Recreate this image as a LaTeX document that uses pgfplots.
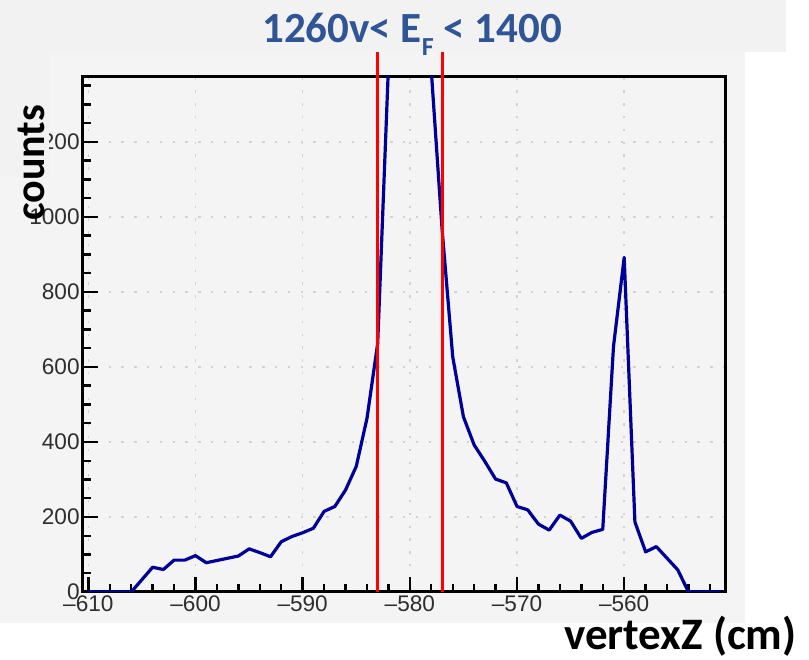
\documentclass[border=0pt]{standalone}
\usepackage{pgfplots}
\pgfplotsset{compat=1.18}
\usepackage{fontspec}
\setmainfont{Liberation Sans}
\newfontfamily\carlito{Carlito}
\definecolor{band}{HTML}{F2F2F2}
\definecolor{panel}{HTML}{F4F4F4}
\definecolor{titleblue}{HTML}{2F5597}
\definecolor{curve}{RGB}{0,0,150}
\definecolor{gridgray}{HTML}{D2D2D2}
\pgfplotstableread{
x y
-610 0
-609 0
-608 0
-607 0
-606 0
-605 33
-604 66
-603 60
-602 85
-601 85
-600 97
-599 78
-598 84
-597 90
-596 96
-595 115
-594 105
-593 94
-592 134
-591 148
-590 158
-589 170
-588 215
-587 228
-586 272
-585 335
-584 463
-583 663
-582 1400
-581 2600
-580 3100
-579 2500
-578 1390
-577 970
-576 627
-575 467
-574 392
-573 348
-572 301
-571 291
-570 228
-569 219
-568 181
-567 165
-566 205
-565 189
-564 143
-563 159
-562 167
-561 654
-560 892
-559 187
-558 107
-557 121
-556 90
-555 59
-554 0
-553 0
-552 0
-551 0
}\vzdata
\begin{document}
\begin{tikzpicture}
\useasboundingbox (0,0) rectangle (404.5pt,329.5pt);
\fill[panel] (0,18pt) rectangle (372.5pt,303.5pt);
\fill[band] (0,303.5pt) rectangle (393pt,329.5pt);
\begin{axis}[
  at={(41.5pt,33.5pt)}, anchor=south west,
  scale only axis, width=321.5pt, height=257.5pt,
  xmin=-610.5, xmax=-550.5, ymin=0, ymax=1373,
  axis line style={line width=1.5pt},
  tick style={line width=1.2pt, black},
  tick align=inside,
  xtick pos=left, ytick pos=left,
  xtick={-610,-600,...,-560},
  xticklabels={–610,–600,–590,–580,–570,–560},
  minor xtick={-610,-608,...,-552},
  ytick={0,200,...,1200},
  yticklabels={0,200,400,600,800,1000,1200},
  minor ytick={0,50,...,1350},
  major tick length=7.5pt, minor tick length=4pt,
  grid=major,
  major grid style={gridgray, line width=0.8pt, dash pattern=on 1.2pt off 5.2pt},
  ticklabel style={font=\fontsize{11.3}{13}\selectfont, text=black!82},
  xticklabel style={inner sep=1.2pt, yshift=-0.3pt},
  yticklabel style={inner sep=1.5pt},
  clip mode=individual,
]
\addplot[curve, line width=1.6pt, line join=round] table[x=x,y=y] {\vzdata};
\addplot[red, line width=1.5pt] coordinates {(-583,0) (-583,1373)};
\addplot[red, line width=1.5pt] coordinates {(-577,0) (-577,1373)};
\coordinate (ra) at (axis cs:-583,1373);
\coordinate (rb) at (axis cs:-577,1373);
\end{axis}
\draw[red, line width=1.5pt] (ra) -- ++(0,12.5pt);
\draw[red, line width=1.5pt] (rb) -- ++(0,12.5pt);
\fill[band] (0,241pt) rectangle (24.5pt,303.5pt);
\node[rotate=90, anchor=base, inner sep=0pt, font=\carlito\bfseries\fontsize{21}{25}\selectfont] at (22.5pt,248pt) {counts};
\node[anchor=base, inner sep=0pt, text=titleblue, font=\carlito\bfseries\fontsize{21.5}{25}\selectfont] at (206pt,308pt) {1260v< E\raisebox{-6.5pt}{\fontsize{13}{14}\selectfont F} < 1400};
\node[anchor=base east, inner sep=0pt, font=\carlito\bfseries\fontsize{22.5}{26}\selectfont] at (398.5pt,5pt) {vertexZ (cm)};
\end{tikzpicture}
\end{document}
